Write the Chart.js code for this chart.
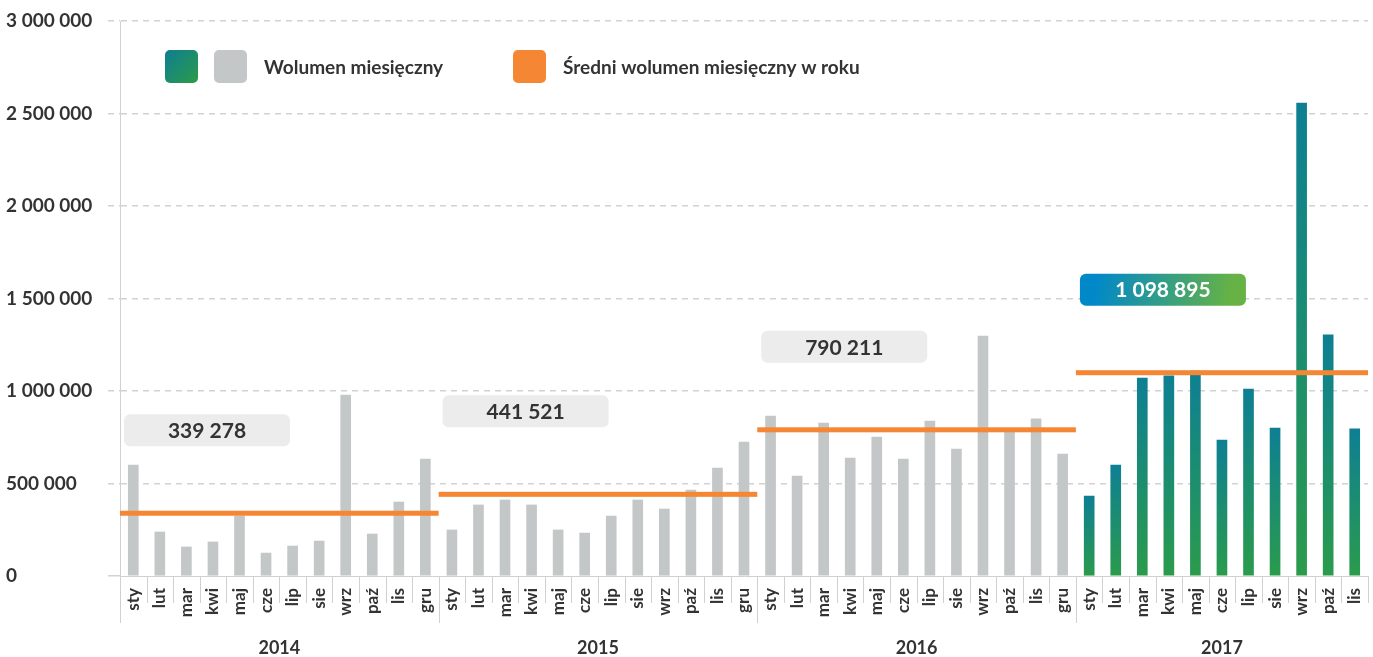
<!DOCTYPE html>
<html lang="pl">
<head>
<meta charset="utf-8">
<title>Wolumen miesięczny</title>
<script src="https://cdn.jsdelivr.net/npm/chart.js@4.4.1/dist/chart.umd.min.js"></script>
<style>
  html, body { margin: 0; padding: 0; background: #fff; }
  #wrap { position: relative; width: 1373px; height: 657px; }
</style>
</head>
<body>
<div id="wrap"><canvas id="volumeChart"></canvas></div>
<script>
// monthly volume per year
const months = ['sty', 'lut', 'mar', 'kwi', 'maj', 'cze', 'lip', 'sie', 'wrz', 'paź', 'lis', 'gru'];
const years = ['2014', '2015', '2016', '2017'];
const vol2014 = [600000, 238000, 157000, 184000, 324000, 124000, 162000, 189000, 978000, 227000, 400000, 632000];
const vol2015 = [249000, 384000, 411000, 384000, 249000, 232000, 324000, 411000, 362000, 465000, 584000, 724000];
const vol2016 = [865000, 540000, 827000, 638000, 751000, 632000, 838000, 686000, 1297000, 785000, 849000, 659000];
const vol2017 = [432000, 600000, 1070000, 1082000, 1108000, 735000, 1011000, 800000, 2557000, 1303000, 795000];
const yearlyAvg = [339278, 441521, 790211, 1098895];
const yTicks = [0, 500000, 1000000, 1500000, 2000000, 2500000, 3000000];

const volumes = [vol2014, vol2015, vol2016, vol2017];
const labels = [];
const values = [];
const yearStart = [];
volumes.forEach(function(v) {
    yearStart.push(values.length);
    v.forEach(function(x, i) { labels.push(months[i]); values.push(x); });
});
yearStart.push(values.length);

const TEXT = '#333333';
const GRAY_BAR = '#c4c7c7';
const ORANGE = '#f58634';
const LINE_GRAY = '#d0d0d0';
const FONT = 'Lato, "Open Sans", sans-serif';

function fmt(n) {
    return String(n).replace(/\B(?=(\d{3})+(?!\d))/g, ' ');
}

function roundRect(ctx, x, y, w, h, r) {
    ctx.beginPath();
    ctx.moveTo(x + r, y);
    ctx.arcTo(x + w, y, x + w, y + h, r);
    ctx.arcTo(x + w, y + h, x, y + h, r);
    ctx.arcTo(x, y + h, x, y, r);
    ctx.arcTo(x, y, x + w, y, r);
    ctx.closePath();
}

// per-bar gradient for the latest year, gray for the rest
function barColor(c) {
    if (c.type !== 'data' || c.dataIndex < yearStart[3]) return GRAY_BAR;
    const chart = c.chart;
    if (!chart.chartArea) return '#168a7a';
    const y = chart.scales.y;
    const top = y.getPixelForValue(c.raw);
    const bottom = y.getPixelForValue(0);
    const g = chart.ctx.createLinearGradient(0, top, 0, bottom);
    g.addColorStop(0, '#0e7f93');
    g.addColorStop(1, '#2a9b4c');
    return g;
}

const overlay = {
    id: 'overlay',
    afterDatasetsDraw(chart) {
        const ctx = chart.ctx;
        const x = chart.scales.x;
        const y = chart.scales.y;
        const half = (x.getPixelForValue(1) - x.getPixelForValue(0)) / 2;
        const area = chart.chartArea;

        ctx.save();
        // yearly average lines and value boxes
        for (let k = 0; k < years.length; k++) {
            const x0 = x.getPixelForValue(yearStart[k]) - half;
            const x1 = x.getPixelForValue(yearStart[k + 1] - 1) + half;
            const py = y.getPixelForValue(yearlyAvg[k]);
            ctx.fillStyle = ORANGE;
            ctx.fillRect(x0, py - 2.5, x1 - x0, 5);

            const bx = x0 + 4, bw = 166, bh = 32, by = py - 83 - bh / 2;
            if (k === 3) {
                const g = ctx.createLinearGradient(bx, by, bx + bw, by + bh);
                g.addColorStop(0.1, '#0088c9');
                g.addColorStop(0.9, '#66b245');
                ctx.fillStyle = g;
            } else {
                ctx.fillStyle = '#ececec';
            }
            roundRect(ctx, bx, by, bw, bh, 6);
            ctx.fill();
            ctx.fillStyle = k === 3 ? '#ffffff' : TEXT;
            ctx.font = 'bold 21px ' + FONT;
            ctx.textAlign = 'center';
            ctx.textBaseline = 'middle';
            ctx.fillText(fmt(yearlyAvg[k]), bx + bw / 2, by + bh / 2 + 1);
        }

        // month separators below the axis, longer ones between years
        ctx.strokeStyle = LINE_GRAY;
        ctx.lineWidth = 1;
        for (let i = 0; i <= values.length; i++) {
            const px = Math.round(x.getPixelForValue(i) - half) + 0.5;
            const isYear = yearStart.indexOf(i) !== -1 && i < values.length;
            ctx.beginPath();
            ctx.moveTo(px, area.bottom);
            ctx.lineTo(px, area.bottom + (isYear ? 47 : 27));
            ctx.stroke();
        }

        // year captions
        ctx.fillStyle = TEXT;
        ctx.font = 'bold 18px ' + FONT;
        ctx.textAlign = 'center';
        ctx.textBaseline = 'middle';
        for (let k = 0; k < years.length; k++) {
            const cx = (x.getPixelForValue(yearStart[k]) + x.getPixelForValue(yearStart[k + 1] - 1)) / 2;
            ctx.fillText(years[k], cx, area.bottom + 72);
        }

        // legend
        const ly = 50, ls = 33;
        const lg = ctx.createLinearGradient(165, ly, 165 + ls, ly + ls);
        lg.addColorStop(0, '#0e7d93');
        lg.addColorStop(1, '#2c9c48');
        ctx.fillStyle = lg;
        roundRect(ctx, 165, ly, ls, ls, 5); ctx.fill();
        ctx.fillStyle = GRAY_BAR;
        roundRect(ctx, 214, ly, ls, ls, 5); ctx.fill();
        ctx.fillStyle = ORANGE;
        roundRect(ctx, 513, ly, ls, ls, 5); ctx.fill();
        ctx.fillStyle = TEXT;
        ctx.font = 'bold 19px ' + FONT;
        ctx.textAlign = 'left';
        ctx.fillText('Wolumen miesięczny', 264, ly + ls / 2 + 1);
        ctx.fillText('Średni wolumen miesięczny w roku', 563, ly + ls / 2 + 1);
        ctx.restore();
    }
};

new Chart(document.getElementById('volumeChart'), {
    type: 'bar',
    data: {
        labels: labels,
        datasets: [{
            label: 'Wolumen miesięczny',
            data: values,
            backgroundColor: barColor,
            borderWidth: 0,
            barThickness: 10
        }]
    },
    options: {
        responsive: true,
        maintainAspectRatio: false,
        animation: false,
        layout: { padding: { top: 21, right: 5, left: 6, bottom: 0 } },
        plugins: {
            legend: { display: false },
            tooltip: { enabled: false }
        },
        scales: {
            x: {
                grid: { display: false, drawTicks: false },
                border: { display: true, color: LINE_GRAY, width: 1 },
                ticks: {
                    autoSkip: false,
                    minRotation: 90,
                    maxRotation: 90,
                    padding: 12,
                    color: TEXT,
                    font: { family: FONT, size: 17, weight: 'bold' }
                },
                afterFit: function(s) {
                    s.height = 81;
                    s.paddingLeft = 0;
                    s.paddingRight = 0;
                }
            },
            y: {
                min: 0,
                max: 3000000,
                afterBuildTicks: function(s) { s.ticks = yTicks.map(function(v) { return { value: v }; }); },
                grid: {
                    color: function(c) { return c.tick && c.tick.value === 0 ? 'rgba(0,0,0,0)' : '#d2d2d2'; },
                    lineWidth: 1.5,
                    tickLength: 12,
                    tickColor: '#d2d2d2',
                    tickBorderDash: function(c) { return c.tick && c.tick.value === 0 ? [] : [6, 5]; }
                },
                // dash here applies to the horizontal grid lines
                border: { display: true, color: LINE_GRAY, width: 1, dash: [6, 5] },
                ticks: {
                    crossAlign: 'far',
                    color: TEXT,
                    font: { family: FONT, size: 19, weight: 'bold' },
                    callback: function(v) { return fmt(v); }
                },
                afterFit: function(s) { s.width = 114; }
            }
        }
    },
    plugins: [overlay]
});
</script>
</body>
</html>
